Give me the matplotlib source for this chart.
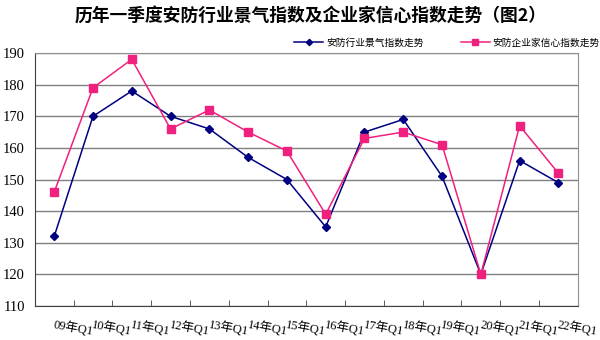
import matplotlib
matplotlib.use('Agg')
import matplotlib.pyplot as plt
import numpy as np

# quarterly Q1 index values, 2009-2022
quarters = ['09年Q1', '10年Q1', '11年Q1', '12年Q1', '13年Q1', '14年Q1', '15年Q1',
            '16年Q1', '17年Q1', '18年Q1', '19年Q1', '20年Q1', '21年Q1', '22年Q1']
industry_index = [132, 170, 178, 170, 166, 157, 150, 135, 165, 169, 151, 120, 156, 149]
confidence_index = [146, 179, 188, 166, 172, 165, 159, 139, 163, 165, 161, 120, 167, 152]
series_names = ['安防行业景气指数走势', '安防企业家信心指数走势']

cjk = 'Noto Sans CJK SC'
serif = ['Liberation Serif', 'Noto Sans CJK SC']

fig = plt.figure(figsize=(6, 3.4), dpi=100)
ax = fig.add_axes([0.058, 0.10, 0.905, 0.744])

x = np.arange(len(quarters))
l1, = ax.plot(x, industry_index, color='#000080', lw=1.1, marker='D', ms=4)
l2, = ax.plot(x, confidence_index, color='#F0207F', lw=1.1, marker='s', ms=6)

ax.set_xlim(-0.5, len(quarters) - 0.5)
ax.set_ylim(110, 190)
ax.set_yticks(range(110, 191, 10))
ax.yaxis.grid(True, color='#808080', lw=1)
ax.set_axisbelow(True)

for lab in ax.get_yticklabels():
    lab.set_family(serif)
    lab.set_fontsize(10.5)
ax.tick_params(axis='y', length=0, pad=7)

# category boundaries as small inward ticks, labels slanted
ax.set_xticks([])
ax.set_xticks(np.arange(-0.5, len(quarters)), minor=True)
ax.tick_params(axis='x', which='minor', direction='in', length=4, color='#404040')
for i, q in enumerate(quarters):
    ax.text(i - 0.02, 104.0, q, rotation=-10, rotation_mode='anchor', ha='left', va='center',
            family=serif, fontsize=9)

ax.spines['left'].set_color('#404040')
ax.spines['bottom'].set_color('#404040')
ax.spines['top'].set_color('#909090')
ax.spines['right'].set_color('#909090')

fig.text(0.518, 0.955, '历年一季度安防行业景气指数及企业家信心指数走势（图2）',
         ha='center', va='center', family=cjk, fontsize=12.8, fontweight='bold')

fig.legend([l1, l2], series_names, loc='center', bbox_to_anchor=(0.745, 0.875),
           ncol=2, frameon=False, prop={'family': cjk, 'size': 7},
           handlelength=3.0, columnspacing=3.8, handletextpad=0.3,
           markerscale=0.8)

fig.savefig('out.png', dpi=100)
